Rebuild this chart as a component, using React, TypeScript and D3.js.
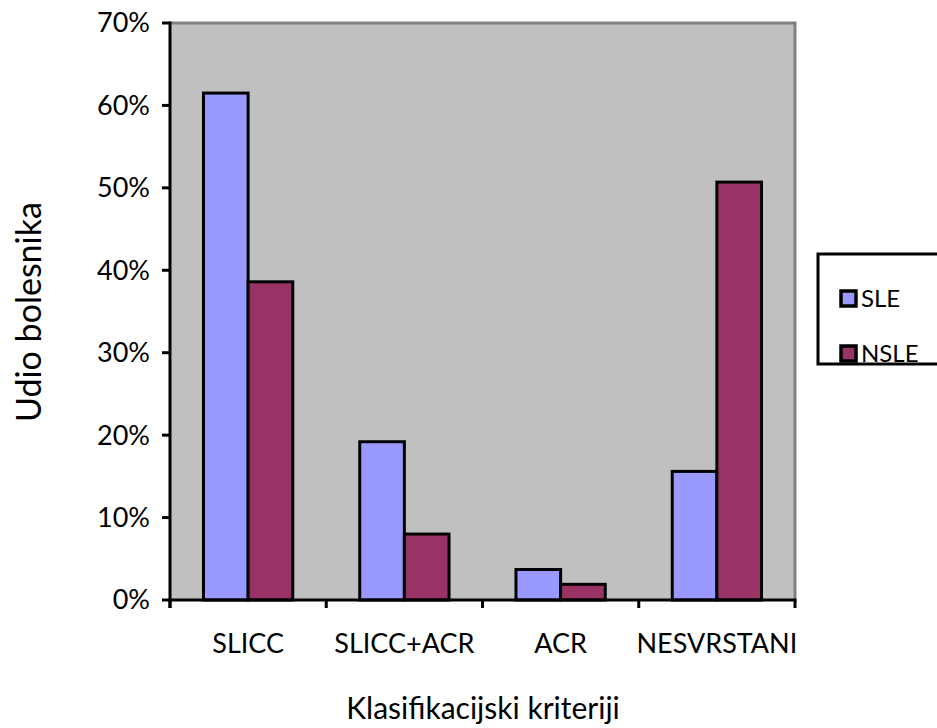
import React from "react";
import * as d3 from "d3";

const categories = ["SLICC", "SLICC+ACR", "ACR", "NESVRSTANI"];
const seriesNames = ["SLE", "NSLE"];
const sleValues = [0.615, 0.192, 0.037, 0.156];
const nsleValues = [0.386, 0.08, 0.019, 0.507];
const yTicks = [0, 0.1, 0.2, 0.3, 0.4, 0.5, 0.6, 0.7];
const colors = ["#9999ff", "#993366"];
const xTitle = "Klasifikacijski kriteriji";
const yTitle = "Udio bolesnika";

const W = 937;
const H = 728;
const plot = { left: 170, right: 795, top: 23, bottom: 600 };
const FONT = "Lato, 'Open Sans', sans-serif";

export default function App() {
  const x = d3
    .scaleBand<string>()
    .domain(categories)
    .range([plot.left, plot.right])
    .paddingInner(0)
    .paddingOuter(0);
  const y = d3.scaleLinear().domain([0, 0.7]).range([plot.bottom, plot.top]);
  const bw = x.bandwidth() / 3.5;
  const fmt = d3.format(".0%");
  const series = [sleValues, nsleValues];

  return (
    <svg
      width={W}
      height={H}
      style={{ position: "absolute", left: 0, top: 0, background: "#fff" }}
      fontFamily={FONT}
    >
      <rect
        x={plot.left}
        y={plot.top}
        width={plot.right - plot.left}
        height={plot.bottom - plot.top}
        fill="#c0c0c0"
      />
      <polyline
        points={`${plot.left},${plot.top} ${plot.right},${plot.top} ${plot.right},${plot.bottom}`}
        fill="none"
        stroke="#808080"
        strokeWidth={3}
      />
      {categories.map((c, i) =>
        series.map((vals, s) => {
          const x0 = (x(c) as number) + bw * 0.75 + s * bw;
          const yv = y(vals[i]);
          return (
            <rect
              key={c + s}
              x={x0}
              y={yv}
              width={bw}
              height={plot.bottom - yv}
              fill={colors[s]}
              stroke="#000"
              strokeWidth={3}
            />
          );
        })
      )}
      {/* axes */}
      <line x1={plot.left} x2={plot.left} y1={plot.top - 1.5} y2={plot.bottom + 8} stroke="#000" strokeWidth={3} />
      <line x1={plot.left - 1.5} x2={plot.right + 1.5} y1={plot.bottom} y2={plot.bottom} stroke="#000" strokeWidth={3} />
      {yTicks.map((t) => (
        <g key={t}>
          <line x1={plot.left - 8} x2={plot.left} y1={y(t)} y2={y(t)} stroke="#000" strokeWidth={3} />
          <text x={150} y={y(t)} dy="0.35em" textAnchor="end" fontSize={27} fill="#000">
            {fmt(t)}
          </text>
        </g>
      ))}
      {categories.map((c) => (
        <text
          key={c}
          x={(x(c) as number) + x.bandwidth() / 2}
          y={653}
          textAnchor="middle"
          fontSize={27}
          fill="#000"
        >
          {c}
        </text>
      ))}
      {[...categories.map((c) => x(c) as number), plot.right].map((v, i) => (
        <line key={i} x1={v} x2={v} y1={plot.bottom} y2={plot.bottom + 8} stroke="#000" strokeWidth={3} />
      ))}
      <text x={483} y={719} textAnchor="middle" fontSize={30} fill="#000">
        {xTitle}
      </text>
      <text
        transform={`translate(41,312) rotate(-90)`}
        textAnchor="middle"
        fontSize={34}
        fill="#000"
      >
        {yTitle}
      </text>
      {/* legend */}
      <rect x={818} y={254} width={130} height={110} fill="#fff" stroke="#000" strokeWidth={3} />
      {seriesNames.map((n, i) => (
        <g key={n} transform={`translate(0,${i * 55})`}>
          <rect x={841} y={291} width={15} height={15} fill={colors[i]} stroke="#000" strokeWidth={3.5} />
          <text x={861} y={299} dy="0.35em" fontSize={24} fill="#000">
            {n}
          </text>
        </g>
      ))}
    </svg>
  );
}
